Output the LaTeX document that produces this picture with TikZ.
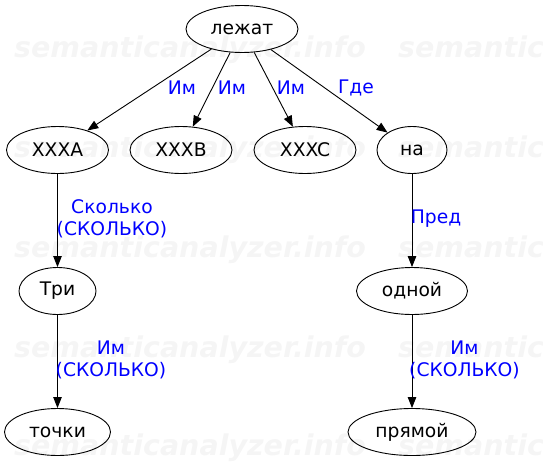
\documentclass[tikz,border=0pt]{standalone}
\usepackage{fontspec}
\setmainfont{DejaVu Sans}
\newfontfamily\wmfont{DejaVu Sans}[BoldItalicFont={DejaVu Sans Bold Oblique}]
\usetikzlibrary{shapes.geometric,arrows.meta}
\begin{document}
\begin{tikzpicture}[x=1pt,y=-1pt,
  nd/.style={draw=black,line width=0.9pt,ellipse,inner sep=0pt,minimum height=47,font=\fontsize{18.7}{22}\selectfont},
  lbl/.style={text=blue,align=center,inner sep=0pt,font=\fontsize{18.7}{22}\selectfont},
  edge/.style={draw=black,line width=0.9pt,-{Triangle[length=11pt,width=8.5pt]}},
  wm/.style={text=black!4,anchor=west,inner sep=0pt,font=\wmfont\bfseries\itshape\fontsize{28.5}{30}\selectfont}]
\useasboundingbox (0,0) rectangle (543,461);
% watermark
\foreach \yy in {50,150,250,350,448}{
  \node[wm] at (14,\yy) {semanticanalyzer.info};
  \node[wm] at (398,\yy) {semanticanalyzer.info};
}
% nodes
\node[nd,minimum width=112] (lez) at (242,29) {лежат};
\node[nd,minimum width=102] (a) at (57.5,150) {XXXA};
\node[nd,minimum width=102] (b) at (181,150) {XXXB};
\node[nd,minimum width=102] (c) at (305,150) {XXXC};
\node[nd,minimum width=70] (na) at (412,150) {на};
\node[nd,minimum width=77] (tri) at (57.5,291) {Три};
\node[nd,minimum width=111] (odn) at (412,291) {одной};
\node[nd,minimum width=106] (toc) at (57.5,432) {точки};
\node[nd,minimum width=128] (pry) at (412,432) {прямой};
% edges
\draw[edge] (lez) -- (a);
\draw[edge] (lez) -- (b);
\draw[edge] (lez) -- (c);
\draw[edge] (lez) -- (na);
\draw[edge] (a) -- (tri);
\draw[edge] (tri) -- (toc);
\draw[edge] (na) -- (odn);
\draw[edge] (odn) -- (pry);
% labels
\node[lbl] (l1) at (182,88) {Им};
\node[lbl] (l2) at (232,88) {Им};
\node[lbl] (l3) at (291,88) {Им};
\node[lbl] (l4) at (356,88) {Где};
\node[lbl] (l5) at (112,219) {Сколько\\(СКОЛЬКО)};
\node[lbl] (l6) at (436,219) {Пред};
\node[lbl] (l7) at (111,360) {Им\\(СКОЛЬКО)};
\node[lbl] (l8) at (464.5,360) {Им\\(СКОЛЬКО)};
\end{tikzpicture}
\end{document}
